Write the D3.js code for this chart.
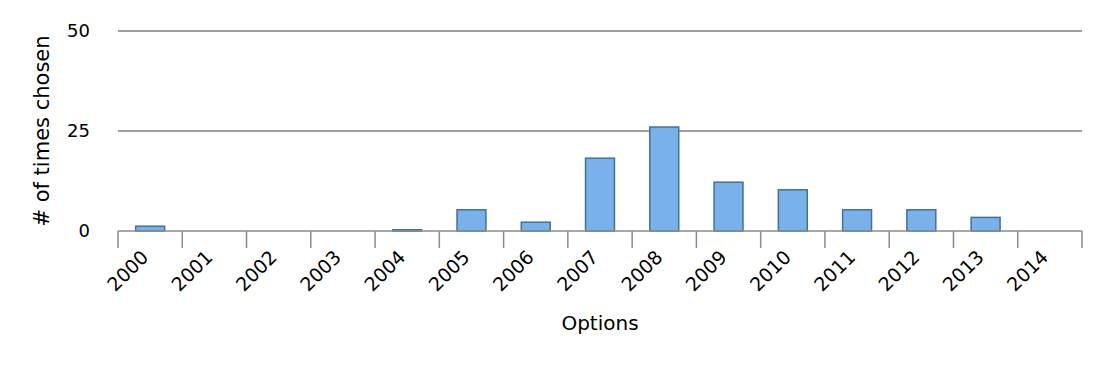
<!DOCTYPE html>
<html>
<head>
<meta charset="utf-8">
<script src="https://cdn.jsdelivr.net/npm/d3@7"></script>
<style>
  body { margin: 0; background: #fff; }
  svg text { font-family: "DejaVu Sans", sans-serif; fill: #000; }
</style>
</head>
<body>
<svg width="1095" height="367"></svg>
<script>
const years = ["2000", "2001", "2002", "2003", "2004", "2005", "2006", "2007",
               "2008", "2009", "2010", "2011", "2012", "2013", "2014"];
const counts = [1.2, 0, 0, 0, 0.3, 5.3, 2.2, 18.2, 26, 12.2, 10.3, 5.3, 5.3, 3.4, 0];
const yTicks = [0, 25, 50];

const svg = d3.select("svg");
const plotLeft = 118, plotRight = 1082, plotTop = 31, plotBottom = 231;

const x = d3.scaleBand().domain(years).range([plotLeft, plotRight]).paddingInner(0.55).paddingOuter(0.275);
const xb = d3.scaleBand().domain(years).range([plotLeft, plotRight]);
const y = d3.scaleLinear().domain([0, 50]).range([plotBottom, plotTop]);

// gridlines
svg.selectAll(".grid")
    .data(yTicks.filter(d => d > 0))
    .enter()
    .append("line")
    .attr("x1", plotLeft)
    .attr("x2", plotRight)
    .attr("y1", d => y(d))
    .attr("y2", d => y(d))
    .attr("stroke", "#7f7f7f")
    .attr("stroke-width", 1.5);

// y tick labels
svg.selectAll(".ylab")
    .data(yTicks)
    .enter()
    .append("text")
    .attr("x", 90)
    .attr("y", d => y(d))
    .attr("dy", "0.36em")
    .attr("text-anchor", "end")
    .attr("font-size", 18)
    .text(d => d);

// bars
const data = years.map((yr, i) => ({ yr, v: counts[i] }));
svg.selectAll(".bar")
    .data(data.filter(d => d.v > 0))
    .enter()
    .append("rect")
    .attr("x", d => x(d.yr))
    .attr("y", d => y(d.v))
    .attr("width", x.bandwidth())
    .attr("height", d => y(0) - y(d.v))
    .attr("fill", "#79b2ea")
    .attr("stroke", "#41709f")
    .attr("stroke-width", 1.5);

// x axis line and ticks
svg.append("line")
    .attr("x1", plotLeft)
    .attr("x2", plotRight)
    .attr("y1", plotBottom)
    .attr("y2", plotBottom)
    .attr("stroke", "#8c8c8c")
    .attr("stroke-width", 1.5);

const tickPos = years.map(d => xb(d)).concat([plotRight]);
svg.selectAll(".xtick")
    .data(tickPos)
    .enter()
    .append("line")
    .attr("x1", d => d)
    .attr("x2", d => d)
    .attr("y1", plotBottom)
    .attr("y2", plotBottom + 17)
    .attr("stroke", "#8c8c8c")
    .attr("stroke-width", 1.5);

// x tick labels
svg.selectAll(".xlab")
    .data(years)
    .enter()
    .append("text")
    .attr("transform", d => `translate(${xb(d) + xb.bandwidth() / 2 - 10},${plotBottom + 18}) rotate(-45)`)
    .attr("text-anchor", "end")
    .attr("dy", "0.7em")
    .attr("font-size", 19)
    .text(d => d);

// axis titles
svg.append("text")
    .attr("x", (plotLeft + plotRight) / 2)
    .attr("y", 330)
    .attr("text-anchor", "middle")
    .attr("font-size", 20)
    .text("Options");

svg.append("text")
    .attr("transform", `translate(49,${(plotTop + plotBottom) / 2}) rotate(-90)`)
    .attr("text-anchor", "middle")
    .attr("font-size", 21)
    .text("# of times chosen");
</script>
</body>
</html>
